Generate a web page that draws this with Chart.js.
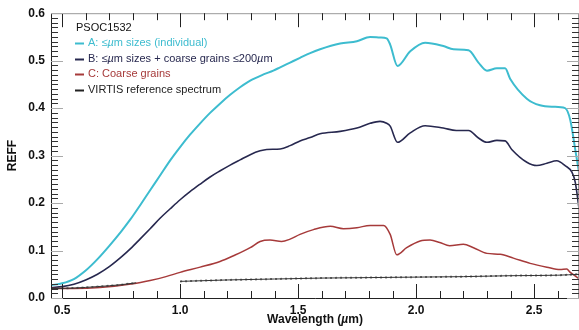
<!DOCTYPE html>
<html>
<head>
<meta charset="utf-8">
<script src="https://cdn.jsdelivr.net/npm/chart.js@4.4.1/dist/chart.umd.min.js"></script>
<style>
  html, body { margin: 0; padding: 0; background: #fff; }
  #box { width: 579px; height: 330px; }
</style>
</head>
<body>
<div id="box"><canvas id="myChart"></canvas></div>
<script>
// wavelength (um) / reflectance
const aWave = [0.455,0.5,0.55,0.6,0.65,0.7,0.75,0.79,0.83,0.873,0.915,0.958,1.0,1.042,1.085,1.127,1.17,1.212,1.254,1.297,1.353,1.395,1.424,1.466,1.508,1.551,1.593,1.678,1.749,1.805,1.847,1.875,1.89,1.921,1.975,2.038,2.115,2.158,2.222,2.264,2.30,2.342,2.377,2.398,2.469,2.525,2.582,2.631,2.653,2.674,2.69];
const aRefl = [0.027,0.031,0.04,0.058,0.082,0.11,0.14,0.166,0.195,0.227,0.258,0.29,0.318,0.344,0.368,0.39,0.41,0.428,0.444,0.458,0.471,0.479,0.486,0.496,0.506,0.516,0.524,0.536,0.541,0.55,0.549,0.547,0.534,0.489,0.52,0.538,0.531,0.524,0.522,0.496,0.479,0.484,0.484,0.462,0.42,0.406,0.403,0.40,0.375,0.313,0.265];

const bWave = [0.455,0.5,0.55,0.6,0.65,0.7,0.75,0.79,0.83,0.873,0.915,0.958,1.0,1.042,1.085,1.127,1.17,1.212,1.254,1.297,1.339,1.367,1.424,1.466,1.508,1.551,1.593,1.678,1.749,1.805,1.847,1.875,1.89,1.921,1.975,2.038,2.115,2.17,2.222,2.264,2.30,2.342,2.377,2.405,2.469,2.511,2.554,2.596,2.631,2.66,2.674,2.69];
const bRefl = [0.022,0.024,0.029,0.038,0.05,0.066,0.086,0.104,0.124,0.146,0.168,0.188,0.207,0.224,0.24,0.255,0.268,0.28,0.291,0.302,0.31,0.313,0.314,0.321,0.331,0.338,0.346,0.351,0.358,0.368,0.372,0.368,0.362,0.328,0.348,0.363,0.358,0.353,0.353,0.337,0.328,0.332,0.331,0.313,0.286,0.279,0.284,0.289,0.279,0.265,0.244,0.189];

const cWave = [0.455,0.55,0.66,0.8,0.873,0.94,1.0,1.085,1.169,1.226,1.297,1.339,1.381,1.43,1.466,1.508,1.565,1.636,1.692,1.749,1.805,1.862,1.89,1.918,1.96,2.017,2.059,2.10,2.142,2.20,2.243,2.30,2.356,2.412,2.483,2.554,2.61,2.638,2.653,2.69];
const cRefl = [0.02,0.02,0.022,0.03,0.037,0.045,0.054,0.065,0.077,0.089,0.106,0.119,0.122,0.119,0.124,0.134,0.144,0.151,0.146,0.148,0.153,0.153,0.134,0.091,0.106,0.12,0.122,0.117,0.11,0.113,0.106,0.094,0.092,0.084,0.073,0.065,0.06,0.061,0.054,0.041];

// VIRTIS has a gap between the two channels (null)
const vWave = [0.455,0.55,0.65,0.75,0.814,0.9,1.0,1.2,1.4,1.6,1.8,2.0,2.2,2.4,2.6,2.69];
const vRefl = [0.020,0.021,0.024,0.028,0.032,null,0.035,0.038,0.040,0.042,0.043,0.044,0.045,0.047,0.048,0.05];

const xTicks = [0.5, 1.0, 1.5, 2.0, 2.5];
const yTicks = [0, 0.1, 0.2, 0.3, 0.4, 0.5, 0.6];

const xTitle = [["Wavelength (", false], ["\u00b5", true], ["m)", false]];
const legendTitle = "PSOC1532";
const legendRows = [
  { color: "#3dbccf", runs: [["A: \u2264", false], ["\u00b5", true], ["m sizes (individual)", false]] },
  { color: "#27284f", runs: [["B: \u2264", false], ["\u00b5", true], ["m sizes + coarse grains \u2264200", false], ["\u00b5", true], ["m", false]] },
  { color: "#a63a3a", runs: [["C: Coarse grains", false]] },
  { color: "#222222", runs: [["VIRTIS reference spectrum", false]] }
];

const FONT = "'Liberation Sans', Arial, sans-serif";
Chart.defaults.font.family = FONT;

function makePoints(waves, values){
  let pts = [];
  for(let i = 0; i < waves.length; i++){
    pts.push({ x: waves[i], y: values[i] });
  }
  return pts;
}

function makeLineDataSet(waves, values, label, color, width){
  return {
    label: label,
    data: makePoints(waves, values),
    borderColor: color,
    borderWidth: width,
    pointRadius: 0,
    cubicInterpolationMode: "monotone",
    spanGaps: false
  };
}

// draws text runs, italic where flagged, returns end x
function drawRuns(ctx, runs, x, y, size, weight){
  for(let k = 0; k < runs.length; k++){
    ctx.font = (runs[k][1] ? "italic " : "") + weight + " " + size + "px " + FONT;
    ctx.fillText(runs[k][0], x, y);
    x += ctx.measureText(runs[k][0]).width;
  }
  return x;
}

function runsWidth(ctx, runs, size, weight){
  let w = 0;
  for(let k = 0; k < runs.length; k++){
    ctx.font = (runs[k][1] ? "italic " : "") + weight + " " + size + "px " + FONT;
    w += ctx.measureText(runs[k][0]).width;
  }
  return w;
}

// inward tick marks + frame, IDL style
const frameTicks = {
  id: "frameTicks",
  afterDatasetsDraw(chart){
    let ctx = chart.ctx;
    let a = chart.chartArea;
    let xs = chart.scales.x, ys = chart.scales.y;
    ctx.save();
    ctx.lineWidth = 1;
    // frame
    ctx.strokeStyle = "#222";
    ctx.beginPath();
    ctx.moveTo(a.left + 0.5, a.top);
    ctx.lineTo(a.left + 0.5, a.bottom + 0.5);
    ctx.lineTo(a.right, a.bottom + 0.5);
    ctx.stroke();
    ctx.strokeStyle = "#999";
    ctx.beginPath();
    ctx.moveTo(a.left, a.top + 0.5);
    ctx.lineTo(a.right, a.top + 0.5);
    ctx.moveTo(a.right - 0.5, a.top);
    ctx.lineTo(a.right - 0.5, a.bottom);
    ctx.stroke();

    // x ticks every 0.1, long every 0.5
    for(let i = 5; i <= 26; i++){
      let px = Math.round(xs.getPixelForValue(i / 10)) + 0.5;
      let len = (i % 5 == 0) ? 14 : 7;
      ctx.strokeStyle = "#222";
      ctx.beginPath();
      ctx.moveTo(px, a.bottom);
      ctx.lineTo(px, a.bottom - len);
      ctx.moveTo(px, a.top);
      ctx.lineTo(px, a.top + len);
      ctx.stroke();
    }
    // y ticks every 0.01, long grey every 0.1
    for(let i = 0; i <= 60; i++){
      let py = Math.round(ys.getPixelForValue(i / 100)) + 0.5;
      let major = (i % 10 == 0);
      let len = major ? 12 : 7;
      ctx.strokeStyle = major ? "#aaa" : "#333";
      ctx.beginPath();
      ctx.moveTo(a.left, py);
      ctx.lineTo(a.left + len, py);
      ctx.moveTo(a.right, py);
      ctx.lineTo(a.right - len, py);
      ctx.stroke();
    }
    ctx.restore();
  }
};

const textLegend = {
  id: "textLegend",
  afterDraw(chart){
    let ctx = chart.ctx;
    let a = chart.chartArea;
    ctx.save();
    ctx.textBaseline = "middle";
    ctx.font = "11px " + FONT;
    ctx.fillStyle = "#111";
    ctx.fillText(legendTitle, 76, 28);
    for(let r = 0; r < legendRows.length; r++){
      let row = legendRows[r];
      let y = 43 + r * 15.5;
      ctx.strokeStyle = row.color;
      ctx.lineWidth = 2;
      ctx.beginPath();
      ctx.moveTo(75, Math.round(y) + 0.5);
      ctx.lineTo(84, Math.round(y) + 0.5);
      ctx.stroke();
      ctx.fillStyle = row.color;
      drawRuns(ctx, row.runs, 88, y, 11, "normal");
    }
    // x axis title with italic mu
    ctx.fillStyle = "#111";
    let w = runsWidth(ctx, xTitle, 12, "bold");
    drawRuns(ctx, xTitle, (a.left + a.right) / 2 - w / 2, 320, 12, "bold");
    ctx.restore();
  }
};

let dataSets = [
  makeLineDataSet(vWave, vRefl, "VIRTIS reference spectrum", "#333", 1),
  makeLineDataSet(cWave, cRefl, "C: Coarse grains", "#a63a3a", 1.5),
  makeLineDataSet(bWave, bRefl, "B", "#27284f", 1.6),
  makeLineDataSet(aWave, aRefl, "A", "#3dbccf", 2)
];
// dotted VIRTIS samples on top of the line
let vDots = makeLineDataSet(vWave, vRefl, "VIRTIS points", "rgba(60,60,60,0.7)", 2);
vDots.borderDash = [2, 3];
dataSets.splice(1, 0, vDots);

new Chart(document.getElementById("myChart"), {
  type: "line",
  data: { datasets: dataSets },
  options: {
    responsive: true,
    maintainAspectRatio: false,
    animation: false,
    layout: { padding: { top: 9, right: 0, left: 0, bottom: 0 } },
    plugins: { legend: { display: false }, tooltip: { enabled: false } },
    scales: {
      x: {
        type: "linear",
        min: 0.453,
        max: 2.69,
        afterBuildTicks: (axis) => { axis.ticks = xTicks.map(v => ({ value: v })); },
        afterFit: (axis) => { axis.height = 32; },
        grid: { display: false, drawTicks: false },
        border: { display: false },
        ticks: {
          padding: 5,
          color: "#111",
          font: { size: 12, weight: "bold" },
          maxRotation: 0,
          callback: (v) => v.toFixed(1)
        }
      },
      y: {
        min: 0,
        max: 0.6,
        afterBuildTicks: (axis) => { axis.ticks = yTicks.map(v => ({ value: v })); },
        afterFit: (axis) => { axis.width = 51; },
        grid: { display: false, drawTicks: false },
        border: { display: false },
        ticks: {
          padding: 6,
          color: "#111",
          font: { size: 12, weight: "bold" },
          callback: (v) => v.toFixed(1)
        },
        title: {
          display: true,
          text: "REFF",
          color: "#111",
          font: { size: 12, weight: "bold" },
          padding: { top: 5, bottom: 0 }
        }
      }
    }
  },
  plugins: [frameTicks, textLegend]
});
</script>
</body>
</html>
